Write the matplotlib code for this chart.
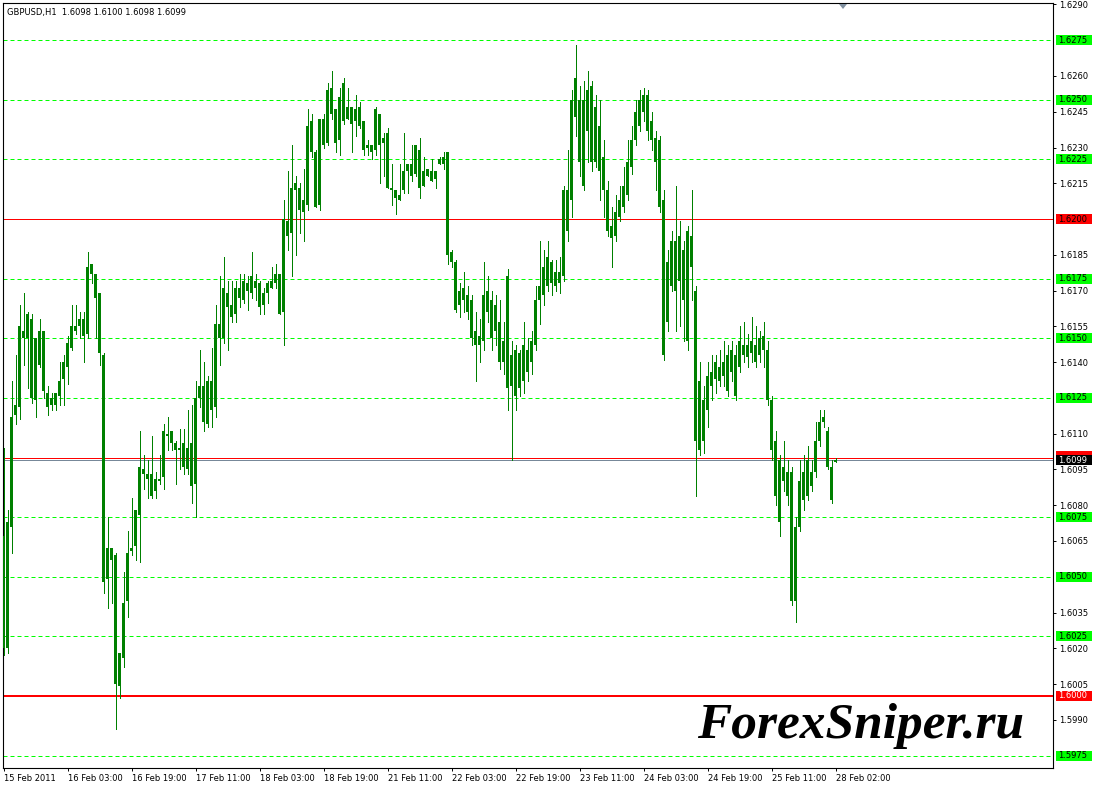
import matplotlib
matplotlib.use("Agg")
import matplotlib.pyplot as plt
from matplotlib.patches import Rectangle, Polygon
from matplotlib.transforms import ScaledTranslation

# ---- data (GBPUSD, H1) ----
TITLE = "GBPUSD,H1  1.6098 1.6100 1.6098 1.6099"

opens = [
    1.6067, 1.6020, 1.6071, 1.6118, 1.6121, 1.6153, 1.6150, 1.6158, 1.6124, 1.6139,
    1.6153, 1.6127, 1.6122, 1.6122, 1.6126, 1.6133, 1.6138, 1.6146, 1.6155, 1.6155,
    1.6158, 1.6152, 1.6177, 1.6177, 1.6169, 1.6143, 1.6049, 1.6062, 1.6059, 1.6004,
    1.6016, 1.6040, 1.6061, 1.6063, 1.6076, 1.6095, 1.6093, 1.6093, 1.6086, 1.6090,
    1.6092, 1.6110, 1.6111, 1.6106, 1.6104, 1.6096, 1.6104, 1.6106, 1.6089, 1.6125,
    1.6130, 1.6114, 1.6132, 1.6121, 1.6156, 1.6150, 1.6169, 1.6164, 1.6160, 1.6171,
    1.6166, 1.6173, 1.6169, 1.6174, 1.6173, 1.6164, 1.6169, 1.6171, 1.6173, 1.6177,
    1.6161, 1.6199, 1.6194, 1.6212, 1.6213, 1.6203, 1.6206, 1.6241, 1.6228, 1.6206,
    1.6242, 1.6232, 1.6255, 1.6246, 1.6233, 1.6241, 1.6247, 1.6247, 1.6241, 1.6247,
    1.6241, 1.6230, 1.6231, 1.6229, 1.6244, 1.6232, 1.6236, 1.6213, 1.6212, 1.6208,
    1.6212, 1.6220, 1.6223, 1.6219, 1.6229, 1.6214, 1.6218, 1.6220, 1.6217, 1.6223,
    1.6223, 1.6228, 1.6186, 1.6182, 1.6164, 1.6171, 1.6168, 1.6166, 1.6147, 1.6151,
    1.6149, 1.6170, 1.6166, 1.6153, 1.6157, 1.6140, 1.6176, 1.6130, 1.6145, 1.6129,
    1.6132, 1.6145, 1.6140, 1.6147, 1.6166, 1.6168, 1.6172, 1.6182, 1.6172, 1.6178,
    1.6176, 1.6212, 1.6208, 1.6243, 1.6250, 1.6214, 1.6254, 1.6224, 1.6247, 1.6239,
    1.6226, 1.6212, 1.6192, 1.6193, 1.6201, 1.6205, 1.6210, 1.6222, 1.6233, 1.6239,
    1.6245, 1.6252, 1.6241, 1.6234, 1.6233, 1.6208, 1.6157, 1.6172, 1.6191, 1.6174,
    1.6187, 1.6149, 1.6193, 1.6170, 1.6103, 1.6124, 1.6120, 1.6130, 1.6133, 1.6138,
    1.6134, 1.6143, 1.6136, 1.6143, 1.6138, 1.6143, 1.6147, 1.6144, 1.6147, 1.6143,
    1.6145, 1.6145, 1.6124, 1.6107, 1.6099, 1.6090, 1.6094, 1.6094, 1.6040, 1.6071,
    1.6082, 1.6084, 1.6094, 1.6094, 1.6107, 1.6115, 1.6111, 1.6096, 1.6098,
]
highs = [
    1.6104, 1.6078, 1.6132, 1.6143, 1.6164, 1.6169, 1.6161, 1.6160, 1.6150, 1.6158,
    1.6153, 1.6130, 1.6127, 1.6127, 1.6140, 1.6143, 1.6151, 1.6164, 1.6164, 1.6161,
    1.6161, 1.6186, 1.6181, 1.6177, 1.6169, 1.6144, 1.6075, 1.6062, 1.6060, 1.6018,
    1.6052, 1.6069, 1.6083, 1.6078, 1.6111, 1.6101, 1.6099, 1.6109, 1.6094, 1.6101,
    1.6114, 1.6117, 1.6111, 1.6107, 1.6112, 1.6112, 1.6120, 1.6122, 1.6132, 1.6145,
    1.6140, 1.6134, 1.6146, 1.6164, 1.6176, 1.6184, 1.6174, 1.6174, 1.6174, 1.6177,
    1.6177, 1.6176, 1.6186, 1.6177, 1.6174, 1.6171, 1.6174, 1.6180, 1.6181, 1.6177,
    1.6208, 1.6220, 1.6231, 1.6218, 1.6215, 1.6221, 1.6246, 1.6244, 1.6229, 1.6242,
    1.6244, 1.6257, 1.6262, 1.6246, 1.6255, 1.6259, 1.6255, 1.6247, 1.6252, 1.6249,
    1.6241, 1.6233, 1.6231, 1.6247, 1.6244, 1.6236, 1.6238, 1.6223, 1.6212, 1.6223,
    1.6236, 1.6223, 1.6231, 1.6231, 1.6234, 1.6226, 1.6221, 1.6225, 1.6220, 1.6226,
    1.6228, 1.6228, 1.6187, 1.6183, 1.6173, 1.6178, 1.6172, 1.6168, 1.6161, 1.6158,
    1.6182, 1.6176, 1.6170, 1.6168, 1.6166, 1.6157, 1.6179, 1.6149, 1.6147, 1.6145,
    1.6157, 1.6150, 1.6153, 1.6172, 1.6191, 1.6187, 1.6191, 1.6183, 1.6183, 1.6184,
    1.6214, 1.6229, 1.6254, 1.6273, 1.6256, 1.6258, 1.6262, 1.6258, 1.6252, 1.6250,
    1.6233, 1.6216, 1.6205, 1.6210, 1.6214, 1.6222, 1.6233, 1.6239, 1.6250, 1.6254,
    1.6255, 1.6254, 1.6245, 1.6237, 1.6235, 1.6212, 1.6187, 1.6195, 1.6214, 1.6199,
    1.6191, 1.6197, 1.6212, 1.6172, 1.6140, 1.6130, 1.6140, 1.6143, 1.6143, 1.6145,
    1.6149, 1.6147, 1.6149, 1.6147, 1.6155, 1.6157, 1.6152, 1.6159, 1.6155, 1.6153,
    1.6157, 1.6149, 1.6126, 1.6111, 1.6101, 1.6107, 1.6099, 1.6096, 1.6075, 1.6099,
    1.6101, 1.6105, 1.6099, 1.6115, 1.6120, 1.6120, 1.6113, 1.6099, 1.6100,
]
lows = [
    1.6017, 1.6018, 1.6060, 1.6114, 1.6116, 1.6139, 1.6129, 1.6123, 1.6117, 1.6138,
    1.6125, 1.6118, 1.6120, 1.6120, 1.6122, 1.6122, 1.6131, 1.6145, 1.6152, 1.6150,
    1.6140, 1.6150, 1.6173, 1.6150, 1.6139, 1.6043, 1.6037, 1.6039, 1.5986, 1.5999,
    1.6012, 1.6033, 1.6059, 1.6057, 1.6056, 1.6087, 1.6083, 1.6083, 1.6083, 1.6089,
    1.6087, 1.6103, 1.6103, 1.6089, 1.6095, 1.6093, 1.6093, 1.6081, 1.6075, 1.6121,
    1.6111, 1.6113, 1.6113, 1.6117, 1.6139, 1.6148, 1.6145, 1.6157, 1.6157, 1.6163,
    1.6165, 1.6162, 1.6167, 1.6166, 1.6160, 1.6160, 1.6165, 1.6171, 1.6171, 1.6160,
    1.6147, 1.6187, 1.6176, 1.6185, 1.6194, 1.6191, 1.6204, 1.6226, 1.6205, 1.6204,
    1.6230, 1.6231, 1.6242, 1.6228, 1.6227, 1.6240, 1.6242, 1.6228, 1.6235, 1.6238,
    1.6227, 1.6227, 1.6225, 1.6227, 1.6215, 1.6218, 1.6213, 1.6206, 1.6202, 1.6208,
    1.6211, 1.6211, 1.6216, 1.6218, 1.6209, 1.6214, 1.6218, 1.6216, 1.6213, 1.6223,
    1.6221, 1.6181, 1.6180, 1.6161, 1.6159, 1.6161, 1.6158, 1.6147, 1.6132, 1.6140,
    1.6145, 1.6157, 1.6145, 1.6147, 1.6137, 1.6135, 1.6120, 1.6099, 1.6120, 1.6126,
    1.6127, 1.6132, 1.6135, 1.6145, 1.6156, 1.6164, 1.6170, 1.6168, 1.6170, 1.6169,
    1.6174, 1.6191, 1.6201, 1.6235, 1.6218, 1.6212, 1.6224, 1.6220, 1.6222, 1.6208,
    1.6201, 1.6193, 1.6180, 1.6191, 1.6199, 1.6203, 1.6208, 1.6219, 1.6231, 1.6237,
    1.6241, 1.6233, 1.6229, 1.6212, 1.6203, 1.6141, 1.6153, 1.6170, 1.6153, 1.6155,
    1.6149, 1.6145, 1.6166, 1.6084, 1.6101, 1.6102, 1.6113, 1.6124, 1.6127, 1.6130,
    1.6130, 1.6126, 1.6132, 1.6124, 1.6136, 1.6140, 1.6138, 1.6140, 1.6138, 1.6140,
    1.6138, 1.6122, 1.6099, 1.6080, 1.6067, 1.6086, 1.6080, 1.6038, 1.6031, 1.6069,
    1.6078, 1.6082, 1.6086, 1.6092, 1.6105, 1.6113, 1.6095, 1.6081, 1.6098,
]
closes = [
    1.6020, 1.6073, 1.6117, 1.6122, 1.6155, 1.6150, 1.6160, 1.6125, 1.6150, 1.6153,
    1.6128, 1.6121, 1.6125, 1.6127, 1.6132, 1.6140, 1.6148, 1.6155, 1.6153, 1.6158,
    1.6151, 1.6180, 1.6181, 1.6167, 1.6144, 1.6048, 1.6062, 1.6057, 1.6005, 1.6018,
    1.6039, 1.6060, 1.6062, 1.6078, 1.6096, 1.6093, 1.6091, 1.6084, 1.6091, 1.6091,
    1.6111, 1.6109, 1.6106, 1.6103, 1.6103, 1.6106, 1.6095, 1.6088, 1.6125, 1.6130,
    1.6115, 1.6132, 1.6120, 1.6156, 1.6150, 1.6171, 1.6163, 1.6159, 1.6171, 1.6167,
    1.6174, 1.6170, 1.6176, 1.6171, 1.6163, 1.6169, 1.6173, 1.6174, 1.6177, 1.6160,
    1.6200, 1.6193, 1.6213, 1.6215, 1.6204, 1.6208, 1.6239, 1.6228, 1.6205, 1.6242,
    1.6231, 1.6254, 1.6244, 1.6232, 1.6251, 1.6257, 1.6242, 1.6240, 1.6246, 1.6239,
    1.6229, 1.6231, 1.6228, 1.6246, 1.6231, 1.6234, 1.6213, 1.6212, 1.6209, 1.6210,
    1.6220, 1.6223, 1.6218, 1.6231, 1.6213, 1.6220, 1.6221, 1.6216, 1.6220, 1.6225,
    1.6226, 1.6185, 1.6182, 1.6162, 1.6170, 1.6166, 1.6161, 1.6150, 1.6153, 1.6147,
    1.6168, 1.6161, 1.6150, 1.6164, 1.6140, 1.6149, 1.6129, 1.6143, 1.6126, 1.6144,
    1.6147, 1.6136, 1.6149, 1.6166, 1.6172, 1.6180, 1.6184, 1.6173, 1.6178, 1.6173,
    1.6212, 1.6195, 1.6250, 1.6259, 1.6224, 1.6250, 1.6237, 1.6256, 1.6224, 1.6220,
    1.6212, 1.6195, 1.6197, 1.6203, 1.6208, 1.6214, 1.6224, 1.6233, 1.6245, 1.6250,
    1.6252, 1.6237, 1.6233, 1.6224, 1.6205, 1.6143, 1.6182, 1.6191, 1.6170, 1.6193,
    1.6166, 1.6195, 1.6180, 1.6107, 1.6132, 1.6107, 1.6134, 1.6136, 1.6140, 1.6132,
    1.6140, 1.6128, 1.6145, 1.6126, 1.6149, 1.6147, 1.6142, 1.6149, 1.6140, 1.6150,
    1.6151, 1.6124, 1.6103, 1.6084, 1.6073, 1.6096, 1.6084, 1.6040, 1.6071, 1.6090,
    1.6094, 1.6099, 1.6088, 1.6107, 1.6115, 1.6117, 1.6096, 1.6082, 1.6099,
]

time_labels = [
    "15 Feb 2011", "16 Feb 03:00", "16 Feb 19:00", "17 Feb 11:00", "18 Feb 03:00",
    "18 Feb 19:00", "21 Feb 11:00", "22 Feb 03:00", "22 Feb 19:00", "23 Feb 11:00",
    "24 Feb 03:00", "24 Feb 19:00", "25 Feb 11:00", "28 Feb 02:00",
]
label_step = 16  # one time label every 16 bars

green_levels = [1.6275, 1.6250, 1.6225, 1.6175, 1.6150, 1.6125, 1.6075, 1.6050, 1.6025, 1.5975]
red_levels = [1.6200, 1.6000]
red_widths = [1.0, 2.0]
red_label_text = ["black", "white"]
ask_line = 1.60998
bid_line = 1.60988
price_ticks = [1.5990, 1.6005, 1.6020, 1.6035, 1.6065, 1.6080, 1.6095, 1.6110, 1.6140,
               1.6155, 1.6170, 1.6185, 1.6215, 1.6230, 1.6245, 1.6260, 1.6290]
y_min, y_max = 1.59698, 1.62906
# ------------------------------------------------------

BAR_GREEN = "#008000"
LEVEL_GREEN = "#00FF00"
FONT = "DejaVu Sans"
FS = 6

W, H = 1094, 788
fig = plt.figure(figsize=(W / 100, H / 100), dpi=100)
fig.patch.set_facecolor("white")
# axes on whole pixels: x 3..1053, y 3..768 (4 px per bar)
ax = fig.add_axes([3 / W, (H - 768) / H, 1050 / W, 765 / H])

n = len(closes)
xs = list(range(n))
ax.set_xlim(-0.125, 262.375)
ax.set_ylim(y_min, y_max)

# horizontal levels
for lv in green_levels:
    ax.axhline(lv, color=LEVEL_GREEN, lw=0.72, ls=(0, (4, 3)), zorder=1)
for lv, lw in zip(red_levels, red_widths):
    ax.axhline(lv, color="#FF0000", lw=lw * 0.72, zorder=1)
ax.axhline(ask_line, color="#FF0000", lw=0.72, zorder=1)
ax.axhline(bid_line, color="#778899", lw=0.72, zorder=1)

# candles (all drawn in the same green, MT4 style)
ax.vlines(xs, lows, highs, color=BAR_GREEN, lw=0.72, zorder=3, antialiased=False)
bottoms = [min(o, c) for o, c in zip(opens, closes)]
heights = [max(abs(c - o), 0.00003) for o, c in zip(opens, closes)]
ax.bar(xs, heights, bottom=bottoms, width=0.75, color=BAR_GREEN, lw=0,
       zorder=4, antialiased=False)

# axes styling
for side in ["left", "right", "top", "bottom"]:
    ax.spines[side].set_color("black")
    ax.spines[side].set_linewidth(0.8)
ax.yaxis.tick_right()
ax.set_yticks(price_ticks)
ax.set_yticklabels([f"{p:.4f}" for p in price_ticks], fontsize=FS, family=FONT)
ax.tick_params(axis="y", direction="out", length=2.5, width=0.7, pad=2)

ax.set_xticks(xs[::label_step][:len(time_labels)])
ax.set_xticklabels(time_labels, fontsize=FS, family=FONT)
ax.tick_params(axis="x", direction="out", length=2.5, width=0.7, pad=2)
shift = ScaledTranslation(1 / 100, 0, fig.dpi_scale_trans)
for lab in ax.get_xticklabels():
    lab.set_horizontalalignment("left")
    lab.set_transform(lab.get_transform() + shift)

# price labels on the right axis
ytr = ax.get_yaxis_transform()
box_w = 36 / 1050
box_h = 10 / 23843


def price_box(price, face, text_color, text=None):
    ax.add_patch(Rectangle((1.0024, price - box_h / 2), box_w, box_h, transform=ytr,
                           facecolor=face, edgecolor="none", clip_on=False, zorder=6))
    if text is not None:
        ax.text(1.0045, price, text, transform=ytr, fontsize=FS, family=FONT,
                color=text_color, va="center", ha="left", zorder=7, clip_on=False)


for lv in green_levels:
    price_box(lv, LEVEL_GREEN, "black", f"{lv:.4f}")
for lv, tc in zip(red_levels, red_label_text):
    price_box(lv, "#FF0000", tc, f"{lv:.4f}")
price_box(ask_line + 0.00008, "#FF0000", "white")
price_box(closes[-1] - 0.00001, "black", "white", f"{closes[-1]:.4f}")

# title, shift marker, watermark
fig.text(7 / W, 1 - 12 / H, TITLE, fontsize=FS, family=FONT, va="center", ha="left")
fig.patches.append(Polygon([[839 / W, 1 - 4 / H], [847 / W, 1 - 4 / H], [843 / W, 1 - 9 / H]],
                           closed=True, transform=fig.transFigure, facecolor="#8090a0",
                           edgecolor="none"))
fig.text(697 / W, (H - 738) / H, "ForexSniper.ru", fontsize=37, family="Liberation Serif",
         fontweight="bold", fontstyle="italic", color="black", va="baseline", ha="left")

fig.savefig("out.png", dpi=100, facecolor="white")
